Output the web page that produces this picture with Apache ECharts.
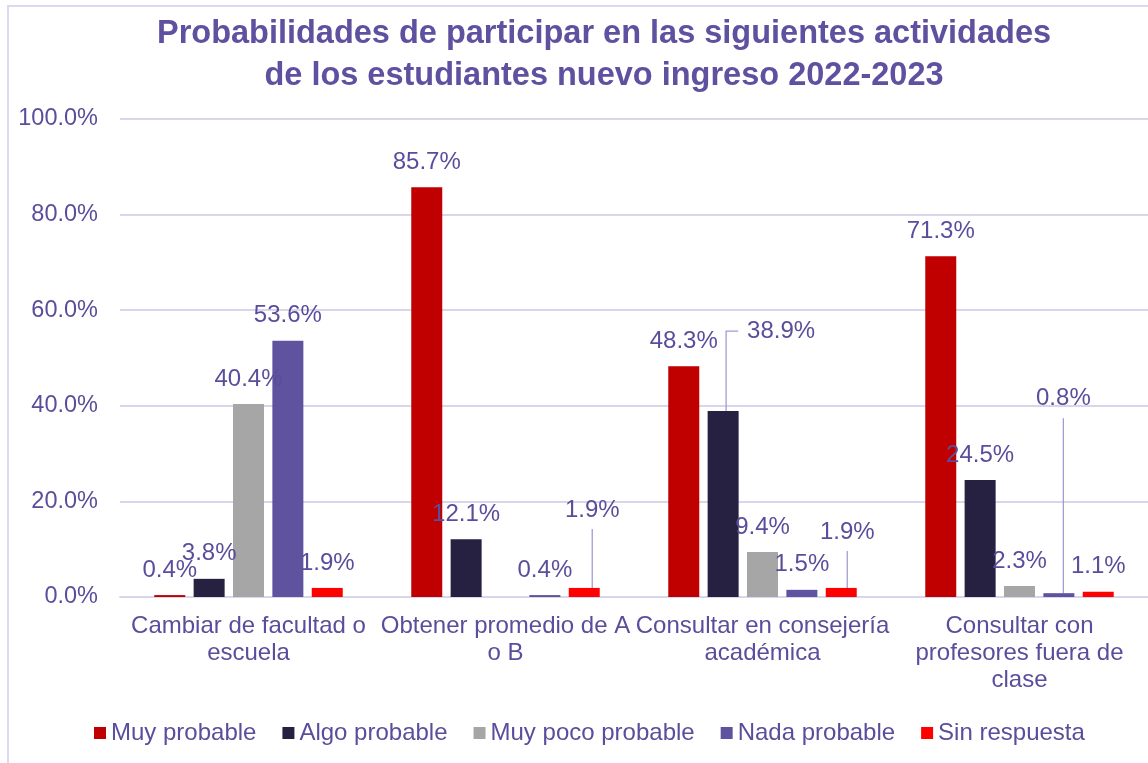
<!DOCTYPE html>
<html>
<head>
<meta charset="utf-8">
<title>Probabilidades de participar</title>
<script src="https://cdn.jsdelivr.net/npm/echarts@6/dist/echarts.min.js"></script>
<style>
  html, body { margin: 0; padding: 0; background: #ffffff; }
  #chart { width: 1148px; height: 763px; }
</style>
</head>
<body>
<div id="chart"></div>
<script>
// Categories (activities) and the share of students per answer, in percent
const categories = [
  'Cambiar de facultad o\nescuela',
  'Obtener promedio de A\no B',
  'Consultar en consejería\nacadémica',
  'Consultar con\nprofesores fuera de\nclase'
];
const seriesNames = ['Muy probable', 'Algo probable', 'Muy poco probable', 'Nada probable', 'Sin respuesta'];
const muyProbable     = [0.4, 85.7, 48.3, 71.3];
const algoProbable    = [3.8, 12.1, 38.9, 24.5];
const muyPocoProbable = [40.4, 0, 9.4, 2.3];
const nadaProbable    = [53.6, 0.4, 1.5, 0.8];
const sinRespuesta    = [1.9, 1.9, 1.9, 1.1];
const yTicks = [0, 20, 40, 60, 80, 100];

const seriesValues = [muyProbable, algoProbable, muyPocoProbable, nadaProbable, sinRespuesta];
const seriesColors = ['#C00000', '#262140', '#A6A6A6', '#5F53A0', '#FF0000'];

const TEXT = '#5A4E9C';
const FONT = "'Liberation Sans', Arial, sans-serif";

// Labels that sit away from their bar, joined to it by a guide line.
// dx/dy move the text centre from its usual spot above the bar;
// pad is the invisible box round the text that the guide line starts from.
const movedLabels = {
  '4-1': { dx: 8,   dy: -53,  pad: [0, 0, 7, 0] },
  '1-2': { dx: 58,  dy: -55,  pad: [0, 80, 0, 9], length2: 12 },
  '4-2': { dx: 6,   dy: -31,  pad: [0, 0, 7, 0] },
  '3-3': { dx: 4.5, dy: -170, pad: [0, 0, 8, 0] }
};

function buildData(si) {
  return seriesValues[si].map(function (v, di) {
    const m = movedLabels[si + '-' + di];
    if (!m) return v;
    return {
      value: v,
      label: { padding: m.pad, backgroundColor: 'rgba(255,255,255,0)' },
      labelLine: {
        show: true,
        length2: m.length2 || 0,
        lineStyle: { color: '#A39BD2', width: 1.3 }
      }
    };
  });
}

const series = seriesNames.map(function (name, si) {
  return {
    name: name,
    type: 'bar',
    data: buildData(si),
    barWidth: 31,
    barGap: '27%',
    itemStyle: { color: seriesColors[si] },
    label: {
      show: true,
      position: 'top',
      distance: 13,
      color: TEXT,
      fontFamily: FONT,
      fontSize: 24,
      formatter: function (p) { return p.value === 0 ? '' : p.value.toFixed(1) + '%'; }
    },
    labelLayout: function (params) {
      const m = movedLabels[params.seriesIndex + '-' + params.dataIndex];
      if (!m) return {};
      const pad = m.pad;
      return {
        dx: m.dx - (pad[3] - pad[1]) / 2,
        dy: m.dy + pad[2]
      };
    },
    emphasis: { disabled: true }
  };
});

const chart = echarts.init(document.getElementById('chart'), null, { renderer: 'canvas' });
chart.setOption({
  backgroundColor: '#ffffff',
  animation: false,
  graphic: [{
    type: 'rect',
    silent: true,
    z: -1,
    shape: { x: 8, y: 6, width: 1300, height: 900 },
    style: { fill: 'none', stroke: '#DCD8EF', lineWidth: 2 }
  }],
  title: {
    text: 'Probabilidades de participar en las siguientes actividades\nde los estudiantes nuevo ingreso 2022-2023',
    left: 604,
    top: 13,
    padding: 0,
    textAlign: 'center',
    textStyle: {
      color: '#5F50A0',
      fontFamily: FONT,
      fontWeight: 'bold',
      fontSize: 32.5,
      lineHeight: 42
    }
  },
  legend: {
    data: seriesNames,
    left: 89,
    top: 716,
    icon: 'rect',
    itemWidth: 12,
    itemHeight: 12,
    itemGap: 26,
    textStyle: { color: TEXT, fontFamily: FONT, fontSize: 24 },
    selectedMode: false
  },
  grid: { left: 120, right: 0, top: 119, bottom: 166, containLabel: false },
  xAxis: {
    type: 'category',
    data: categories,
    axisLine: { lineStyle: { color: '#D9D6EC', width: 2 } },
    axisTick: { show: false },
    axisLabel: {
      interval: 0,
      margin: 16,
      color: TEXT,
      fontFamily: FONT,
      fontSize: 24,
      lineHeight: 27
    }
  },
  yAxis: {
    type: 'value',
    min: yTicks[0],
    max: yTicks[yTicks.length - 1],
    interval: yTicks[1] - yTicks[0],
    axisLine: { show: false },
    axisTick: { show: false },
    splitLine: { lineStyle: { color: '#D9D6EC', width: 2 } },
    axisLabel: {
      margin: 22,
      color: TEXT,
      fontFamily: FONT,
      fontSize: 23.5,
      formatter: function (v) { return v.toFixed(1) + '%'; }
    }
  },
  series: series
});
</script>
</body>
</html>
